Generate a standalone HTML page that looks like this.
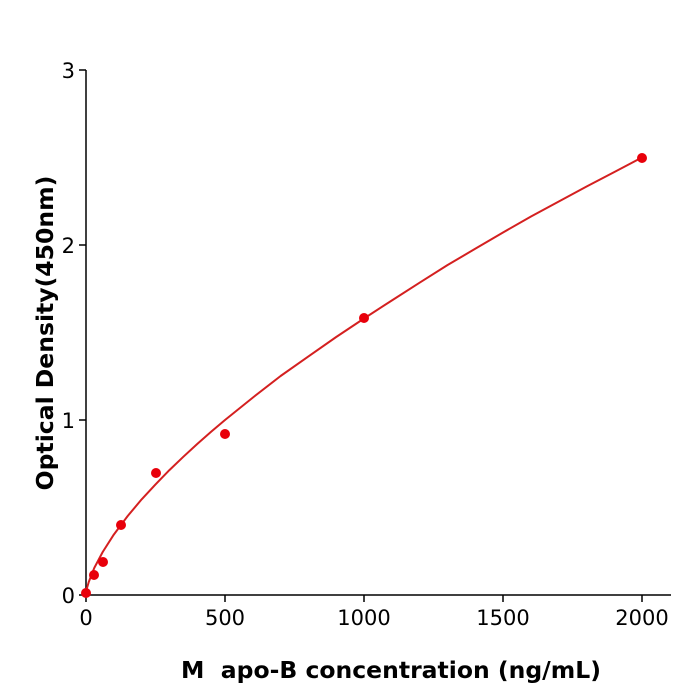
<!DOCTYPE html>
<html><head><meta charset="utf-8"><style>body{margin:0;background:#fff}svg{display:block}</style></head>
<body>
<svg width="700" height="700" xmlns="http://www.w3.org/2000/svg" font-family="DejaVu Sans, Liberation Sans, sans-serif">
<g stroke="#000" stroke-width="1.5" fill="none">
<line x1="86" y1="70" x2="86" y2="596"/>
<line x1="85" y1="595" x2="671" y2="595"/>
<line x1="79" y1="595" x2="86" y2="595"/>
<line x1="79" y1="420" x2="86" y2="420"/>
<line x1="79" y1="245" x2="86" y2="245"/>
<line x1="79" y1="70" x2="86" y2="70"/>
<line x1="86" y1="595" x2="86" y2="602"/>
<line x1="225" y1="595" x2="225" y2="602"/>
<line x1="364" y1="595" x2="364" y2="602"/>
<line x1="503" y1="595" x2="503" y2="602"/>
<line x1="642" y1="595" x2="642" y2="602"/>
</g>
<g font-size="21" fill="#000" text-anchor="end">
<text x="75" y="603">0</text>
<text x="75" y="428">1</text>
<text x="75" y="253">2</text>
<text x="75" y="78">3</text>
</g>
<g font-size="21" fill="#000" text-anchor="middle">
<text x="86" y="625">0</text>
<text x="225" y="625">500</text>
<text x="364" y="625">1000</text>
<text x="503" y="625">1500</text>
<text x="642" y="625">2000</text>
</g>
<text x="391" y="678" font-size="23.5" font-weight="bold" text-anchor="middle" xml:space="preserve">M  apo-B concentration (ng/mL)</text>
<text transform="translate(53,333) rotate(-90)" font-size="23.5" font-weight="bold" text-anchor="middle">Optical Density(450nm)</text>
<polyline fill="none" stroke="#d42020" stroke-width="2" stroke-linejoin="round" points="86,595 87,588 88.8,581.9 94.3,567.9 102.7,552 113.8,534.6 127.7,516 141.6,499.4 155.5,484.4 169.4,470.1 183.3,456.8 197.2,444 211.1,431.8 225,420 252.8,397.6 280.6,376 308.4,356.4 336.2,337 364,318.5 391.8,300.5 419.6,282.7 447.4,265.1 475.2,248.8 503,232.5 531,216.5 558.8,201.5 586.6,186.5 614.4,172 642,157.5"/>
<g fill="#e8000b">
<circle cx="86" cy="593" r="5"/>
<circle cx="94" cy="575" r="5"/>
<circle cx="103" cy="562" r="5"/>
<circle cx="121" cy="525" r="5"/>
<circle cx="156" cy="473" r="5"/>
<circle cx="225" cy="434" r="5"/>
<circle cx="364" cy="318" r="5"/>
<circle cx="642" cy="158" r="5"/>
</g>
</svg>
</body></html>
